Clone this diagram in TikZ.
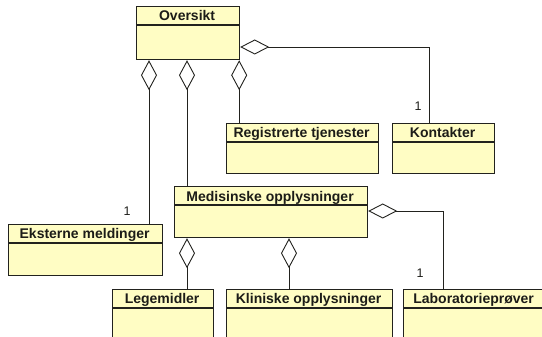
\documentclass[tikz,border=0pt]{standalone}
\usepackage{fontspec}
\setmainfont{Liberation Sans}
\usetikzlibrary{arrows.meta}

\definecolor{classfill}{RGB}{255,253,196}
\definecolor{classedge}{RGB}{34,34,30}
\definecolor{labeltext}{RGB}{28,28,24}

\tikzset{
  classframe/.style={draw=classedge, fill=classfill, line width=1.2pt,
    rectangle, inner sep=0pt, anchor=north west},
  classtitle/.style={anchor=base, inner sep=0pt, text=labeltext,
    font=\fontsize{14}{16}\selectfont\bfseries},
  mult/.style={anchor=base, inner sep=0pt, text=labeltext,
    font=\fontsize{12.5}{14}\selectfont},
  aggr/.style={draw=classedge, line width=0.9pt,
    {Diamond[open, length=30pt, width=16pt]}-},
  aggrside/.style={draw=classedge, line width=0.9pt,
    {Diamond[open, length=29pt, width=15pt]}-}
}

% \umlclass{name}{left}{top}{right}{bottom}{title}
\newcommand{\umlclass}[6]{%
  \node[classframe, minimum width={#4pt-#2pt}, minimum height={#5pt-#3pt}]
    (#1) at (#2,#3) {};
  \draw[classedge, line width=1.2pt]
    ([yshift=-19pt]#1.north west) -- ([yshift=-19pt]#1.north east);
  \node[classtitle] (#1-title) at ([xshift=-1pt, yshift=-15pt]#1.north) {#6};
}

\begin{document}
\begin{tikzpicture}[x=1pt, y=-1pt]
  \useasboundingbox (0,0) rectangle (542,337);
  \clip (0,0) rectangle (542,337);

  % classes
  \umlclass{over}{136}{6}{239}{59}{Oversikt}
  \umlclass{reg}{226}{123}{378}{173}{Registrerte tjenester}
  \umlclass{kont}{392}{123}{494}{173}{Kontakter}
  \umlclass{med}{174}{186}{367}{237}{Medisinske opplysninger}
  \umlclass{ekst}{8}{224}{162}{275}{Eksterne meldinger}
  \umlclass{lege}{112}{289}{213}{350}{Legemidler}
  \umlclass{klin}{226}{289}{392}{350}{Kliniske opplysninger}
  \umlclass{lab}{403}{289}{545}{350}{Laboratorieprøver}

  % aggregations from Oversikt
  \draw[aggr] ([xshift=13pt]over.south west)
    -- ([xshift=13pt]over.south west |- ekst.north);
  \draw[aggr] ([xshift=51pt]over.south west)
    -- ([xshift=51pt]over.south west |- med.north);
  \draw[aggr] ([xshift=-1pt]over.south east)
    -- ([xshift=-1pt]over.south east |- reg.north);
  \draw[aggrside] ([yshift=-41pt]over.north east)
    -| ([xshift=37pt]kont.north west);

  % aggregations from Medisinske opplysninger
  \draw[aggr] ([xshift=13pt]med.south west)
    -- ([xshift=13pt]med.south west |- lege.north);
  \draw[aggr] ([xshift=115pt]med.south west)
    -- ([xshift=115pt]med.south west |- klin.north);
  \draw[aggrside] ([yshift=-25pt]med.north east)
    -| ([xshift=40pt]lab.north west);

  % multiplicities
  \node[mult] (m-ekst) at (127,215) {1};
  \node[mult] (m-kont) at (418,111) {1};
  \node[mult] (m-lab) at (420,277) {1};
\end{tikzpicture}
\end{document}
